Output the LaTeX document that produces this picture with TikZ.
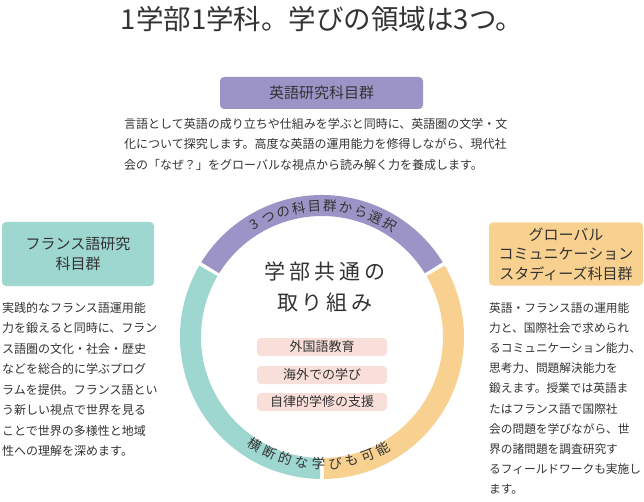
\documentclass[tikz,border=0pt]{standalone}
\usepackage{fontspec}
\setmainfont{Noto Sans CJK JP}
\usetikzlibrary{positioning}
\usetikzlibrary{calc}
\definecolor{inkgray}{HTML}{333333}
\definecolor{ringpurple}{HTML}{9C94C6}
\definecolor{ringteal}{HTML}{9ED6D0}
\definecolor{ringorange}{HTML}{F8D08F}
\definecolor{tagpink}{HTML}{F8DFDA}

\begin{document}
\begin{tikzpicture}[x=1pt, y=1pt, text=inkgray,
    headbox/.style={rounded corners=4pt, minimum width=#1, align=center, font=\fontsize{15}{19.5}\selectfont},
    para/.style={anchor=north west, align=left, inner sep=0pt, font=\fontsize{12.5}{20.5}\selectfont},
    tagbox/.style={fill=tagpink, rounded corners=4pt, minimum width=130pt, minimum height=18pt, inner sep=0pt, font=\fontsize{13}{13}\selectfont}]
  \useasboundingbox (0,0) rectangle (644,501);
  % The title
  \node[font=\fontsize{27.5}{27.5}\selectfont] (title) at (322,482) {1学部1学科。学びの領域は3つ。};

  % English subject group
  \node[headbox=203pt, fill=ringpurple, minimum height=32pt] (eng) at (321.5,408) {英語研究科目群};
  \node[para, font=\fontsize{12}{20.5}\selectfont] (engtext) at (124,383)
    {言語として英語の成り立ちや仕組みを学ぶと同時に、英語圏の文学・文\\
     化について探究します。高度な英語の運用能力を修得しながら、現代社\\
     会の「なぜ？」をグローバルな視点から読み解く力を養成します。};

  % French subject group
  \node[headbox=152pt, fill=ringteal, minimum height=64pt] (fra) at (78,247) {フランス語研究\\科目群};
  \node[para, font=\fontsize{12}{20.5}\selectfont] (fratext) at (2,199)
    {実践的なフランス語運用能\\力を鍛えると同時に、フラン\\ス語圏の文化・社会・歴史\\などを総合的に学ぶプログ\\
     ラムを提供。フランス語とい\\う新しい視点で世界を見る\\ことで世界の多様性と地域\\性への理解を深めます。};

  % Global communication subject group
  \node[headbox=154pt, fill=ringorange, minimum height=63pt] (glo) at (566,247) {グローバル\\コミュニケーション\\スタディーズ科目群};
  \node[para, font=\fontsize{11.7}{20.2}\selectfont] (glotext) at (489,199)
    {英語・フランス語の運用能\\力と、国際社会で求められ\\るコミュニケーション能力、\\思考力、問題解決能力を\\
     鍛えます。授業では英語ま\\たはフランス語で国際社\\会の問題を学びながら、世\\界の諸問題を調査研究す\\
     るフィールドワークも実施し\\ます。};

  % The ring
  \coordinate (c) at (322,164);
  \foreach \a/\b/\col in {31.8/148.2/ringpurple, 149.8/269.2/ringteal, 270.8/390.2/ringorange}
    \fill[\col] ($(c)+(\a:142)$) arc[start angle=\a, end angle=\b, radius=142]
      -- ($(c)+(\b:121)$) arc[start angle=\b, end angle=\a, radius=121] -- cycle;
  % Texts along the ring
  \foreach \ch [count=\i] in {3,つ,の,科,目,群,か,ら,選,択}
    \node[font=\fontsize{13.5}{13.5}\selectfont, inner sep=0pt, rotate={121-(\i-1)*6.9-90}]
      at ($(c)+({121-(\i-1)*6.9}:131)$) {\ch};
  \foreach \ch [count=\i] in {横,断,的,な,学,び,も,可,能}
    \node[font=\fontsize{13.5}{13.5}\selectfont, inner sep=0pt, rotate={-122+(\i-1)*7.6+90}]
      at ($(c)+({-122+(\i-1)*7.6}:127)$) {\ch};

  % Common program
  \node[align=center, font=\fontsize{21}{31}\selectfont] (common) at (325,214)
    {学\hspace{4pt}部\hspace{4pt}共\hspace{4pt}通\hspace{4pt}の\\取\hspace{4pt}り\hspace{4pt}組\hspace{4pt}み};
  \node[tagbox] (tag1) at (322,154) {外国語教育};
  \node[tagbox] (tag2) at (322,126) {海外での学び};
  \node[tagbox] (tag3) at (322,99) {自律的学修の支援};
\end{tikzpicture}
\end{document}
